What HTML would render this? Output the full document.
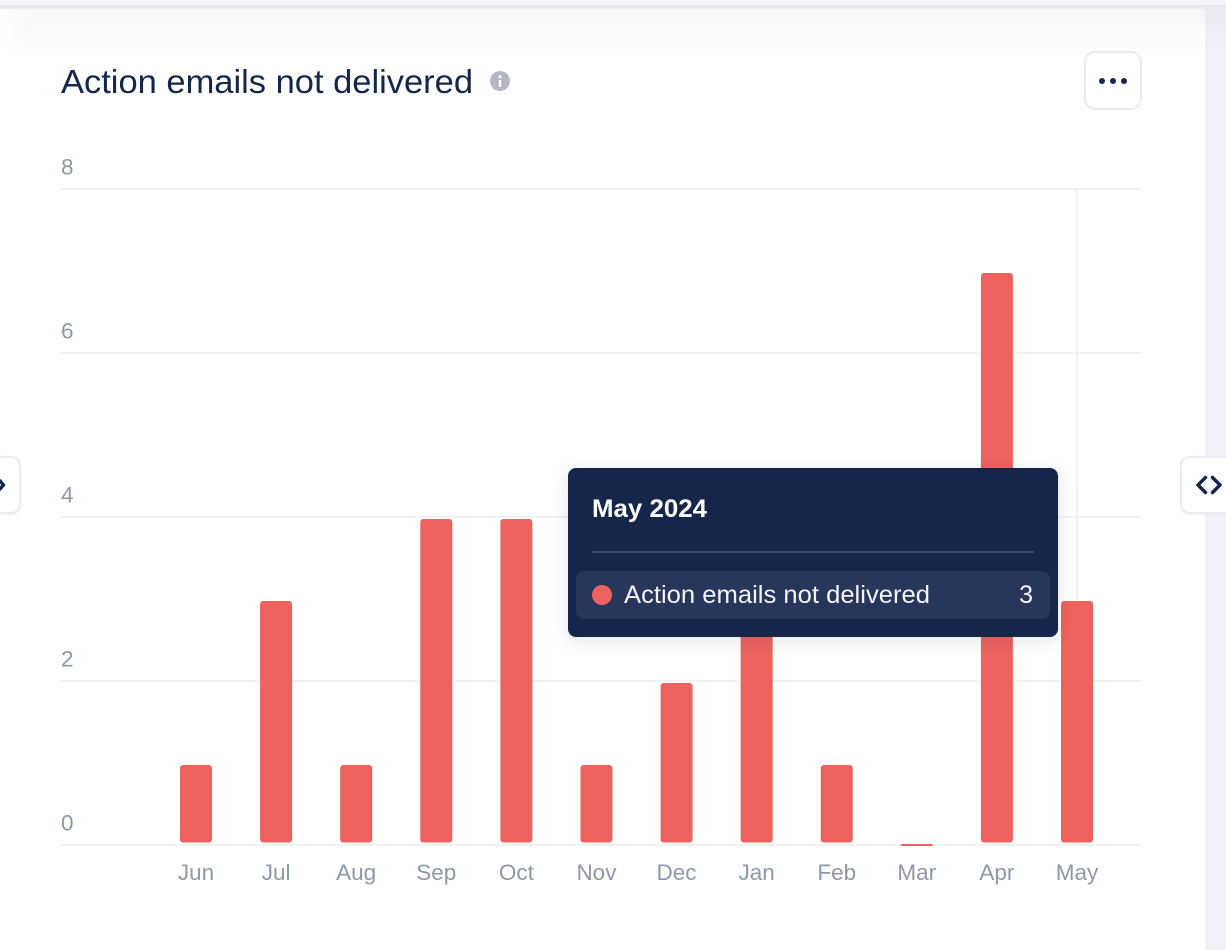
<!DOCTYPE html>
<html lang="en">
<head>
<meta charset="utf-8">
<title>Action emails not delivered</title>
<style>
html,body{margin:0;padding:0;width:1226px;height:950px;overflow:hidden;background:#fff;font-family:"Liberation Sans",sans-serif}
#stage{position:absolute;left:0;top:0;width:1226px;height:950px;overflow:hidden;background:#fff}
#top-bar{position:absolute;left:0;top:0;width:1226px;height:5px;background:#f3f4f8}
#top-shadow{position:absolute;left:0;top:5px;width:1226px;height:4px;background:linear-gradient(#e5e6ec,#e6e7ec 60%,#eff0f3)}
#top-fade{position:absolute;left:0;top:9px;width:1205px;height:44px;background:linear-gradient(90deg,#fff 0,rgba(255,255,255,0) 30px),linear-gradient(#f6f7f9,#fafafb 30%,#fcfcfd 85%,#fefefe 100%)}
#right-strip{position:absolute;left:1205px;top:7px;width:21px;height:943px;background:linear-gradient(#e9ebef,#f1f2f6 50px)}
.nav{position:absolute;top:456px;height:54px;width:56px;background:#fff;border:2px solid #e9ebf0;border-radius:10px;box-shadow:0 1px 3px rgba(20,38,75,.05)}
#chart{position:absolute;left:0;top:0}
</style>
</head>
<body>
<div id="stage">
  <div id="top-bar"></div>
  <div id="top-shadow"></div>
  <div id="top-fade"></div>
  <div id="right-strip"></div>
  <div class="nav" style="left:-39px"></div>
  <div class="nav" style="left:1180px"></div>
  <svg id="chart" width="1226" height="950" viewBox="0 0 1226 950" xmlns="http://www.w3.org/2000/svg">
    <g id="nav-icons" fill="none" stroke="#14264b" stroke-width="3.500" stroke-linecap="round" stroke-linejoin="round">
      <path d="M1205.500 477.500l-7.500 7.500 7.500 7.500M1212.500 477.500l7.500 7.500-7.500 7.500"/>
      <path d="M0 481l3.500 4-3.500 4"/>
    </g>
    <text x="61" y="93" font-size="33" fill="#14264b" textLength="412" lengthAdjust="spacingAndGlyphs">Action emails not delivered</text>
    <g>
      <circle cx="500" cy="81" r="10" fill="#b1b7c6"/>
      <rect x="498.700" y="80" width="2.600" height="7" fill="#fff"/>
      <circle cx="500" cy="76.500" r="1.600" fill="#fff"/>
    </g>
    <g>
      <rect x="1085" y="52" width="56" height="57" rx="10" fill="#fff" stroke="#e9ebf0" stroke-width="2"/>
      <circle cx="1102" cy="81" r="3" fill="#14264b"/>
      <circle cx="1113" cy="81" r="3" fill="#14264b"/>
      <circle cx="1124" cy="81" r="3" fill="#14264b"/>
    </g>
    <g id="grid"></g>
    <line x1="1077" y1="189" x2="1077" y2="845" stroke="#eef0f4" stroke-width="2"/>
    <g id="bars"></g>
    <g id="x-labels"></g>
    <g id="y-labels"></g>
    <defs>
      <filter id="tip-shadow" x="-10%" y="-20%" width="120%" height="140%">
        <feDropShadow dx="0" dy="4" stdDeviation="8" flood-color="#14264b" flood-opacity="0.12"/>
      </filter>
    </defs>
    <g>
      <rect x="568" y="468" width="490" height="169" rx="8" fill="#14264b" filter="url(#tip-shadow)"/>
      <text x="592" y="517" font-size="25" font-weight="700" fill="#fff" textLength="115" lengthAdjust="spacingAndGlyphs">May 2024</text>
      <rect x="592" y="551" width="442" height="2" fill="#3d4b6b"/>
      <rect x="576" y="571" width="474" height="48" rx="8" fill="#27365a"/>
      <circle cx="602" cy="595" r="10" fill="#ee625d"/>
      <text x="624" y="603" font-size="25" fill="#f4f5f8" textLength="306" lengthAdjust="spacingAndGlyphs">Action emails not delivered</text>
      <text x="1033" y="603" font-size="25" fill="#f4f5f8" text-anchor="end">3</text>
    </g>
  </svg>
</div>
<script>
const months = ["Jun","Jul","Aug","Sep","Oct","Nov","Dec","Jan","Feb","Mar","Apr","May"];
const emailsNotDelivered = [1,3,1,4,4,1,2,3,1,0,7,3];
const yTicks = [0,2,4,6,8];

const NS = "http://www.w3.org/2000/svg";
const yZero = 845, yUnit = 82, xFirst = 196, xStep = 80.09, barWidth = 32;
const plotLeft = 60, plotRight = 1141;
function xScale(i){ return xFirst + xStep * i; }
function yScale(v){ return yZero - yUnit * v; }
function make(tag, attrs){
  const el = document.createElementNS(NS, tag);
  for (const k in attrs) el.setAttribute(k, attrs[k]);
  return el;
}
const gridG = document.getElementById("grid");
const yG = document.getElementById("y-labels");
const xG = document.getElementById("x-labels");
const barG = document.getElementById("bars");

yTicks.forEach(function(t){
  const line = make("rect", {x: plotLeft, y: yScale(t) - 1, width: plotRight - plotLeft, height: 2, fill: "#f1f2f5"});
  
  
  gridG.appendChild(line);
  const label = make("text", {x: 61, y: yScale(t) - 14.5, "font-size": 22.5, fill: "#8e97ab"});
  
  
  label.textContent = t;
  yG.appendChild(label);
});

months.forEach(function(m, i){
  const v = emailsNotDelivered[i];
  const x = xScale(i) - barWidth / 2;
  let top, h;
  if (v > 0) { top = yScale(v) + 2; h = yZero - 2.5 - top; }
  else { top = yZero - 1; h = 2; }
  const bar = make("rect", {x: x, y: top, width: barWidth, height: h, rx: v > 0 ? 3 : 1, fill: "#ed625c"});
  
  
  barG.appendChild(bar);
  const label = make("text", {x: xScale(i), y: 880, "font-size": 22.5, fill: "#8e97ab", "text-anchor": "middle"});
  
  
  label.textContent = m;
  xG.appendChild(label);
});
</script>
</body>
</html>
